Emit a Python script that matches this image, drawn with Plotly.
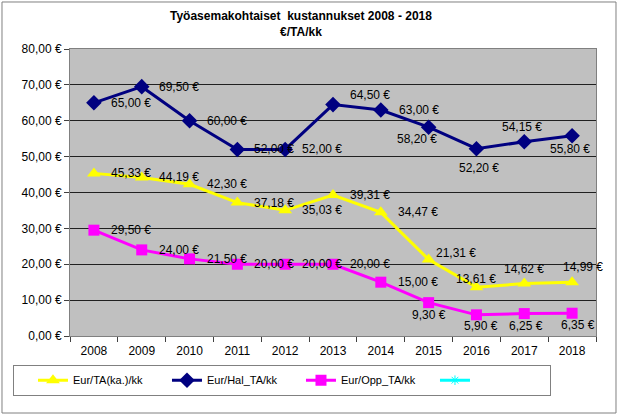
import plotly.graph_objects as go

# --- data ---
years = ["2008", "2009", "2010", "2011", "2012", "2013", "2014", "2015", "2016", "2017", "2018"]
eur_ta_ka = [45.33, 44.19, 42.30, 37.18, 35.03, 39.31, 34.47, 21.31, 13.61, 14.62, 14.99]
eur_hal_ta = [65.00, 69.50, 60.00, 52.00, 52.00, 64.50, 63.00, 58.20, 52.20, 54.15, 55.80]
eur_opp_ta = [29.50, 24.00, 21.50, 20.00, 20.00, 20.00, 15.00, 9.30, 5.90, 6.25, 6.35]
y_ticks = [0, 10, 20, 30, 40, 50, 60, 70, 80]

title_text = "<b>Työasemakohtaiset  kustannukset 2008 - 2018<br>€/TA/kk</b>"

FONT = "Arial, Liberation Sans, sans-serif"


def eur(v):
    return f"{v:.2f}".replace(".", ",") + " €"


# label offsets (px, label centre relative to point; +dy = down), copied by eye
R = (37, 0)
offs_hal = [R, R, R, R, R, (37, -10), (38, 0), (-12, 12), (3, 19), (-2, -15), (-2, 13)]
offs_ka = [R, R, R, R, R, R, R, (27, -7), (0, -8), (0, -15), (11, -15)]
offs_opp = [R, R, R, R, R, R, R, (0, 12), (5, 11), (2, 12), (6, 12)]

fig = go.Figure()

fig.add_trace(go.Scatter(
    x=years, y=eur_ta_ka, name="Eur/TA(ka.)/kk", mode="lines+markers",
    line=dict(color="#FFFF00", width=3),
    marker=dict(symbol="triangle-up", size=12, color="#FFFF00"),
))
fig.add_trace(go.Scatter(
    x=years, y=eur_hal_ta, name="Eur/Hal_TA/kk", mode="lines+markers",
    line=dict(color="#000080", width=3),
    marker=dict(symbol="diamond", size=12, color="#000080"),
))
fig.add_trace(go.Scatter(
    x=years, y=eur_opp_ta, name="Eur/Opp_TA/kk", mode="lines+markers",
    line=dict(color="#FF00FF", width=3),
    marker=dict(symbol="square", size=11, color="#FF00FF"),
))
# empty fourth series, only visible in the legend
fig.add_trace(go.Scatter(
    x=[years[0]], y=[None], name=" ", mode="lines+markers",
    line=dict(color="#00FFFF", width=3),
    marker=dict(symbol="asterisk-open", size=8, color="#00FFFF", line=dict(color="#00FFFF", width=1)),
))

# value labels, x given as category index
annotations = []
for vals, offs in [(eur_hal_ta, offs_hal), (eur_ta_ka, offs_ka), (eur_opp_ta, offs_opp)]:
    for i, (v, (dx, dy)) in enumerate(zip(vals, offs)):
        annotations.append(dict(
            x=i, y=v, xref="x", yref="y", text=eur(v), showarrow=False,
            xanchor="center", yanchor="middle", xshift=dx, yshift=-dy,
            font=dict(family=FONT, size=12, color="black"),
        ))

fig.update_layout(
    width=618, height=415,
    margin=dict(l=70, r=22, t=49, b=79),
    paper_bgcolor="white",
    plot_bgcolor="#C0C0C0",
    font=dict(family=FONT, size=12, color="black"),
    title=dict(text=title_text, x=0.487, xanchor="center", y=0.952, yanchor="middle",
               font=dict(family=FONT, size=12, color="black")),
    showlegend=True,
    legend=dict(
        orientation="h", x=-0.1084, y=-0.1, xanchor="left", yanchor="top",
        bgcolor="white", bordercolor="#808080", borderwidth=1,
        font=dict(family=FONT, size=11, color="black"),
        entrywidth=70, entrywidthmode="pixels", indentation=19,
        traceorder="normal",
    ),
    annotations=annotations,
    shapes=[dict(type="rect", xref="paper", yref="paper",
                 x0=-0.1293, x1=1.038, y0=-0.2683, y1=1.1638,
                 line=dict(color="#808080", width=1), fillcolor="rgba(0,0,0,0)", layer="below")],
)

fig.update_xaxes(
    type="category", categoryorder="array", categoryarray=years, range=[-0.5, len(years) - 0.5],
    tickson="boundaries", ticks="outside", ticklen=5, tickcolor="#404040", ticklabelstandoff=4,
    showgrid=False, showline=True, mirror=True, linecolor="#808080",
    tickfont=dict(family=FONT, size=12, color="black"),
)
fig.update_yaxes(
    range=[0, 80], tickvals=y_ticks, ticktext=[eur(t) for t in y_ticks],
    ticks="outside", ticklen=5, tickcolor="#404040",
    showgrid=True, gridcolor="#202020", gridwidth=1,
    showline=True, mirror=True, linecolor="#808080", zeroline=False,
    tickfont=dict(family=FONT, size=12, color="black"),
)

# drop the default page margin so the figure sits at the window's corner
fig.write_html("out.html", config={"displayModeBar": False},
               post_script="document.body.style.margin='0';")
